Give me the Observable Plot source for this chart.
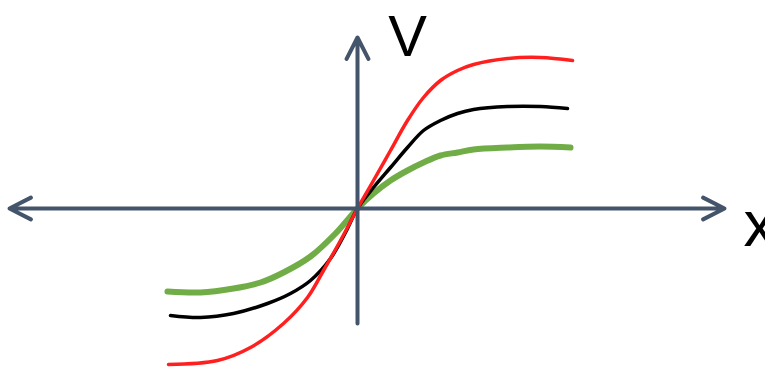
<!DOCTYPE html>
<html>
<head>
<meta charset="utf-8">
<script src="https://cdn.jsdelivr.net/npm/d3@7"></script>
<script src="https://cdn.jsdelivr.net/npm/@observablehq/plot@0.6"></script>
<style>
  html, body { margin: 0; padding: 0; background: #fff; }
  #chart svg { display: block; }
</style>
</head>
<body>
<div id="chart"></div>
<script>
// Curve points (x, V) in arbitrary units, origin at (0,0)
const redX   = [-1.89,-1.40,-1.07,-0.74,-0.50,-0.34,-0.17,0,0.16,0.33,0.50,0.66,0.83,1.00,1.16,1.50,1.83,2.15];
const redV   = [-1.56,-1.52,-1.39,-1.15,-0.89,-0.62,-0.32,0,0.28,0.58,0.88,1.11,1.28,1.38,1.44,1.50,1.51,1.48];
const blackX = [-1.87,-1.57,-1.24,-0.90,-0.67,-0.47,-0.27,-0.12,0,0.16,0.33,0.50,0.66,0.83,1.00,1.16,1.50,1.83,2.10];
const blackV = [-1.07,-1.09,-1.05,-0.95,-0.85,-0.72,-0.50,-0.24,0,0.21,0.41,0.61,0.78,0.88,0.95,0.99,1.02,1.02,1.00];
const greenX = [-1.90,-1.57,-1.24,-0.97,-0.74,-0.47,-0.22,0,0.16,0.33,0.50,0.66,0.83,1.00,1.16,1.50,1.83,2.13];
const greenV = [-0.83,-0.84,-0.80,-0.74,-0.64,-0.48,-0.25,0,0.15,0.28,0.38,0.46,0.53,0.56,0.59,0.61,0.62,0.61];

// Axis extents (data units)
const axisLeft = -3.48, axisRight = 3.67, axisTop = 1.71, axisBottom = -1.15;
const axisLabels = ["V", "x"];

const toPts = (xs, vs) => xs.map((x, i) => ({x, v: vs[i]}));
const red = toPts(redX, redV), black = toPts(blackX, blackV), green = toPts(greenX, greenV);

const arrows = [
  {x1: 0, y1: 0, x2: axisLeft, y2: 0},
  {x1: 0, y1: 0, x2: axisRight, y2: 0},
  {x1: 0, y1: axisBottom, x2: 0, y2: axisTop}
];
const labelV = [{t: axisLabels[0], x: 0.50, y: 1.71}];
const labelX = [{t: axisLabels[1], x: 3.86, y: -0.17}];

const axisColor = "#44546a";
const font = "Liberation Sans Narrow, Liberation Sans, sans-serif";

const plot = Plot.plot({
  width: 765,
  height: 367,
  margin: 0,
  x: {domain: [-3.57, 4.08], axis: null},
  y: {domain: [-1.59, 2.08], axis: null},
  marks: [
    Plot.line(green, {x: "x", y: "v", stroke: "#70ad47", strokeWidth: 6, curve: "catmull-rom"}),
    Plot.line(black, {x: "x", y: "v", stroke: "#000000", strokeWidth: 3.5, curve: "catmull-rom"}),
    Plot.line(red, {x: "x", y: "v", stroke: "#ff1f1f", strokeWidth: 3.5, curve: "catmull-rom"}),
    Plot.arrow(arrows, {x1: "x1", y1: "y1", x2: "x2", y2: "y2", stroke: axisColor, strokeWidth: 4, headLength: 9, headAngle: 54, strokeLinecap: "round"}),
    Plot.text(labelV, {x: "x", y: "y", text: "t", fontSize: 58, fill: "#000", textAnchor: "middle", fontFamily: font}),
    Plot.text(labelX, {x: "x", y: "y", text: "t", fontSize: 64, fill: "#000", textAnchor: "start", fontFamily: font})
  ]
});
document.getElementById("chart").appendChild(plot);
</script>
</body>
</html>
